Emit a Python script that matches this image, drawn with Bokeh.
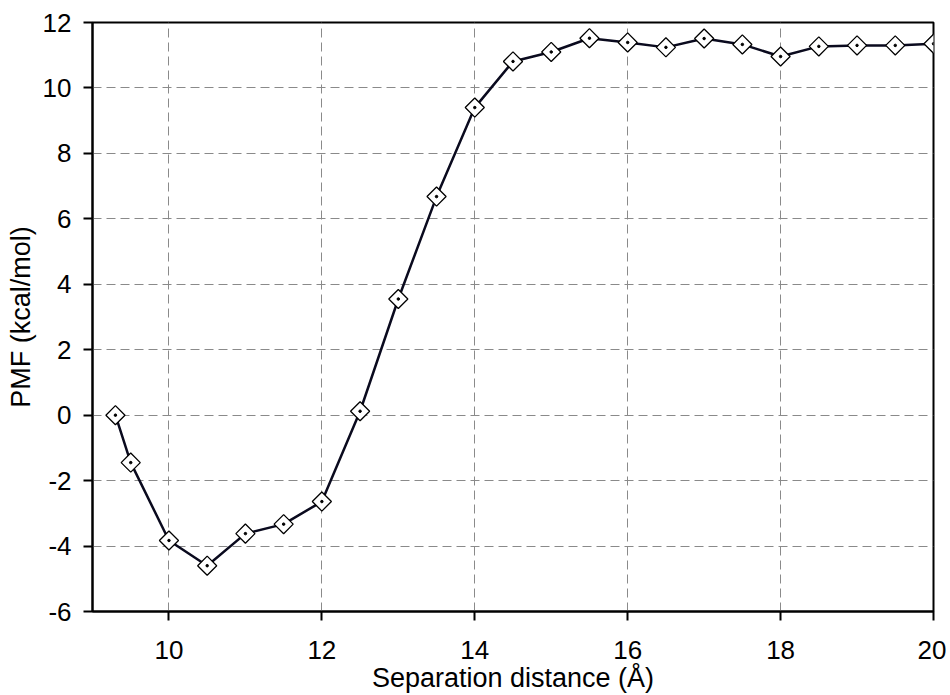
from bokeh.plotting import figure
from bokeh.models import FixedTicker, Range1d, CustomJSTickFormatter
from bokeh.embed import file_html
from bokeh.resources import INLINE
import math

distance = [9.3, 9.5, 10.0, 10.5, 11.0, 11.5, 12.0, 12.5, 13.0, 13.5, 14.0, 14.5,
            15.0, 15.5, 16.0, 16.5, 17.0, 17.5, 18.0, 18.5, 19.0, 19.5, 20.0]
pmf = [0.0, -1.45, -3.83, -4.6, -3.62, -3.33, -2.64, 0.12, 3.55, 6.68, 9.4, 10.81,
       11.1, 11.52, 11.39, 11.24, 11.51, 11.33, 10.96, 11.27, 11.3, 11.3, 11.35]
x_ticks = [10, 12, 14, 16, 18, 20]
y_ticks = [-6, -4, -2, 0, 2, 4, 6, 8, 10, 12]

p = figure(width=946, height=695, output_backend="svg", toolbar_location=None,
           x_range=Range1d(9.0, 20.0), y_range=Range1d(-6, 12),
           min_border_left=92, min_border_right=13, min_border_top=22, min_border_bottom=84)

p.background_fill_color = "white"
p.border_fill_color = "white"
p.outline_line_color = "black"
p.outline_line_width = 2

fmt = CustomJSTickFormatter(code="return tick.toFixed(0);")
for ax in [p.xaxis[0], p.yaxis[0]]:
    ax.axis_line_color = "black"
    ax.axis_line_width = 2
    ax.major_tick_line_color = "black"
    ax.major_tick_line_width = 2
    ax.major_tick_out = 9
    ax.major_tick_in = 0
    ax.minor_tick_line_color = None
    ax.major_label_text_font = "Liberation Sans"
    ax.major_label_text_font_size = "26px"
    ax.major_label_text_color = "black"
    ax.axis_label_text_font = "Liberation Sans"
    ax.axis_label_text_font_size = "27px"
    ax.axis_label_text_font_style = "normal"
    ax.axis_label_text_color = "black"
    ax.formatter = fmt
    ax.ticker = FixedTicker(ticks=x_ticks if ax is p.xaxis[0] else y_ticks)

p.xaxis[0].axis_label = "Separation distance (Å)"
p.yaxis[0].axis_label = "PMF (kcal/mol)"
p.xaxis[0].major_label_standoff = 20
p.yaxis[0].major_label_standoff = 12
p.xaxis[0].axis_label_standoff = 1
p.yaxis[0].axis_label_standoff = 4

p.xgrid.grid_line_color = "#8a8a8a"
p.ygrid.grid_line_color = "#8a8a8a"
p.xgrid.grid_line_dash = "9 5"
p.ygrid.grid_line_dash = "9 5"
p.xgrid.grid_line_width = 1
p.ygrid.grid_line_width = 1

p.line(distance, pmf, line_color="#0a0a1e", line_width=2.5)
p.scatter(distance, pmf, marker="square", size=13.5, angle=math.pi / 4,
          fill_color="white", line_color="black", line_width=1.3)
p.scatter(distance, pmf, marker="circle", size=2.5, fill_color="black", line_color="black")

open("out.html", "w").write(file_html(p, INLINE))
